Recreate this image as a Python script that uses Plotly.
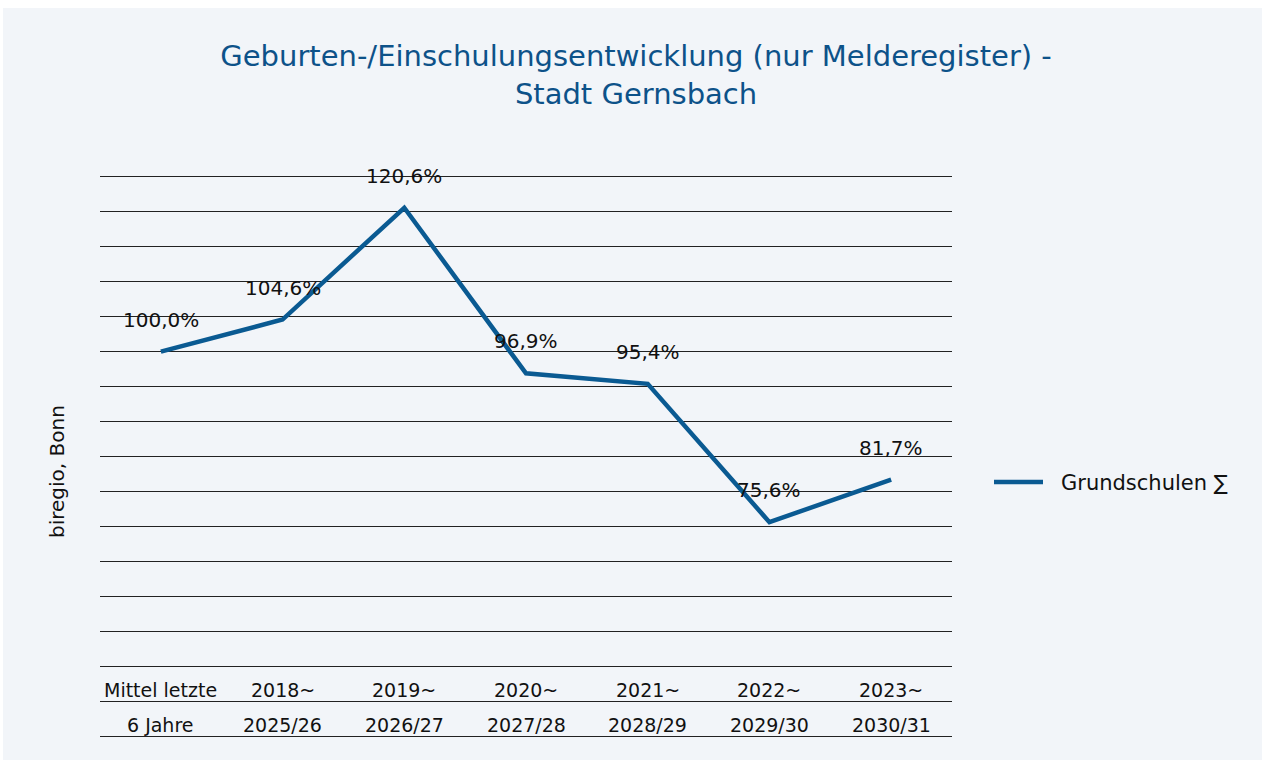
import plotly.graph_objects as go

# Zeitraum-Beschriftungen (zweizeilig) und Index-Werte
label_top = ["Mittel letzte", "2018~", "2019~", "2020~", "2021~", "2022~", "2023~"]
label_bottom = ["6 Jahre", "2025/26", "2026/27", "2027/28", "2028/29", "2029/30", "2030/31"]
grundschulen = [100.0, 104.6, 120.6, 96.9, 95.4, 75.6, 81.7]

series_name = "Grundschulen \u2211"
title_text = "Geburten-/Einschulungsentwicklung (nur Melderegister) -<br>Stadt Gernsbach"
source_text = "biregio, Bonn"

LINE_COLOR = "#0a5a92"
TITLE_COLOR = "#0d5289"
PANEL = "#f2f5f9"
TEXT = "#111111"
FONT = "DejaVu Sans"

# Zeichenfläche in Pixeln
W, H = 1262, 760
L, R, T, B = 100, 310, 177, 24
PW, PH = W - L - R, H - T - B


def px_x(p):
    return (p - L) / PW


def px_y(p):
    return (H - B - p) / PH


x_idx = list(range(len(grundschulen)))

fig = go.Figure()
fig.add_trace(go.Scatter(
    x=x_idx, y=grundschulen, mode="lines", name=series_name,
    line=dict(color=LINE_COLOR, width=4.5),
    hoverinfo="skip", showlegend=False,
))

annotations = []
# Werte-Beschriftungen oberhalb der Punkte
for i, v in enumerate(grundschulen):
    annotations.append(dict(
        x=i, y=v, xref="x", yref="y", showarrow=False,
        text=f"{v:.1f}%".replace(".", ","), yshift=32,
        font=dict(family=FONT, size=20, color=TEXT),
    ))
# Tabellenzeilen unterhalb der Zeichenfläche
for i, (a, b) in enumerate(zip(label_top, label_bottom)):
    annotations.append(dict(x=i, y=52.5, xref="x", yref="y", showarrow=False, yshift=-6,
                            text=a, font=dict(family=FONT, size=19, color=TEXT)))
    annotations.append(dict(x=i, y=47.5, xref="x", yref="y", showarrow=False, yshift=-6,
                            text=b, font=dict(family=FONT, size=19, color=TEXT)))
# Quellenangabe
annotations.append(dict(x=px_x(57), y=px_y(472), xref="paper", yref="paper", showarrow=False,
                        xanchor="center", yanchor="middle",
                        text=source_text, textangle=-90,
                        font=dict(family=FONT, size=20, color=TEXT)))
# Legendeneintrag
annotations.append(dict(x=px_x(1059), y=px_y(483), xref="paper", yref="paper", showarrow=False,
                        xanchor="left", yanchor="middle", text=series_name,
                        font=dict(family=FONT, size=21, color=TEXT)))

fig.update_layout(
    width=W, height=H,
    margin=dict(l=L, r=R, t=T, b=B),
    paper_bgcolor="white",
    plot_bgcolor=PANEL,
    title=dict(text=title_text, x=0.504, xanchor="center", y=0.913, yanchor="middle",
               font=dict(family=FONT, size=29, color=TITLE_COLOR)),
    xaxis=dict(range=[-0.5, 6.5], showgrid=False, zeroline=False, showticklabels=False,
               showline=True, mirror=True, linecolor="#222222", linewidth=1, fixedrange=True),
    yaxis=dict(range=[45, 125], dtick=5, tick0=45, showgrid=True, gridcolor="#222222",
               gridwidth=1, zeroline=False, showticklabels=False, showline=False, fixedrange=True),
    showlegend=False,
    annotations=annotations,
    shapes=[
        dict(type="rect", xref="paper", yref="paper", layer="below",
             x0=px_x(3), x1=px_x(W), y0=px_y(H), y1=px_y(8),
             fillcolor=PANEL, line=dict(width=0)),
        dict(type="line", xref="paper", yref="paper",
             x0=px_x(994), x1=px_x(1043), y0=px_y(482), y1=px_y(482),
             line=dict(color=LINE_COLOR, width=4.5)),
    ],
)

fig.write_html("out.html")
